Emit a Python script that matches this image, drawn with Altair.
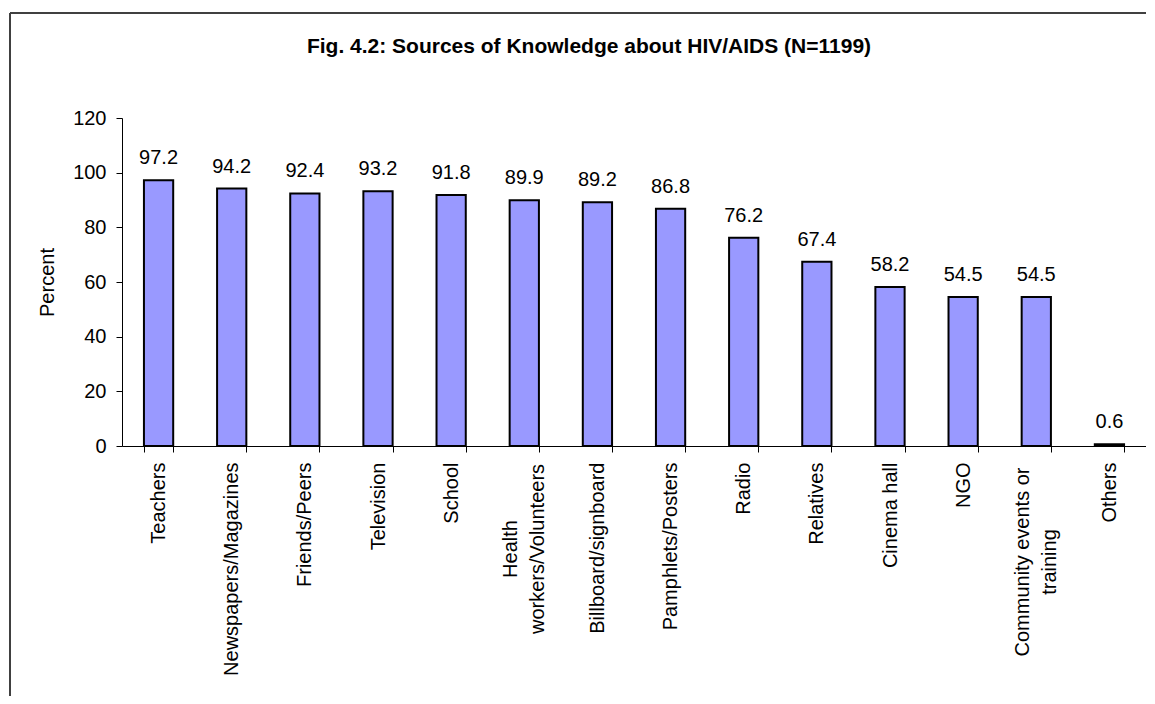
import altair as alt
import pandas as pd

categories = ["Teachers", "Newspapers/Magazines", "Friends/Peers", "Television", "School",
              "Health workers/Volunteers", "Billboard/signboard", "Pamphlets/Posters", "Radio",
              "Relatives", "Cinema hall", "NGO", "Community events or training", "Others"]
values = [97.2, 94.2, 92.4, 93.2, 91.8, 89.9, 89.2, 86.8, 76.2, 67.4, 58.2, 54.5, 54.5, 0.6]
y_ticks = [0, 20, 40, 60, 80, 100, 120]
title_text = "Fig. 4.2: Sources of Knowledge about HIV/AIDS (N=1199)"
# two-line category labels (drawn centred, as in the original)
wrapped = {"Health workers/Volunteers": "Health\nworkers/Volunteers",
           "Community events or training": "Community events or\ntraining"}

df = pd.DataFrame({"source": categories, "pct": values})
df["lbl"] = df["pct"].map(lambda v: f"{v:.1f}")

FONT = "Liberation Sans"
LH = 27

label_expr = ("datum.label == 'Health workers/Volunteers' || "
              "datum.label == 'Community events or training' ? '' : datum.label")

x_enc = alt.X("source:N", sort=categories,
              scale=alt.Scale(paddingInner=0.6, paddingOuter=0.3),
              axis=alt.Axis(title=None, labelAngle=-90, tickBand="extent", labelLimit=0,
                            labelExpr=label_expr))
y_enc = alt.Y("pct:Q", scale=alt.Scale(domain=[0, 120], nice=False),
              axis=alt.Axis(title="Percent", values=y_ticks, titleFontSize=20,
                            titleFontWeight="normal", titlePadding=15, titleFont=FONT,
                            titleColor="black"))

base = alt.Chart(df)
bars = base.mark_bar(color="#9999FF", stroke="black", strokeWidth=2).encode(x=x_enc, y=y_enc)
labels = base.mark_text(dy=-16, baseline="alphabetic", fontSize=20, font=FONT,
                        color="black").encode(x=x_enc, y=y_enc, text="lbl:N")

wdf = pd.DataFrame({"source": list(wrapped.keys()), "txt": list(wrapped.values())})
wrap_layers = []
for cat, ypix in [("Health workers/Volunteers", 431), ("Community events or training", 444)]:
    wrap_layers.append(
        alt.Chart(wdf[wdf["source"] == cat]).mark_text(
            angle=270, align="center", baseline="middle", lineBreak="\n", lineHeight=LH,
            dy=-LH / 2, fontSize=20, font=FONT, color="black").encode(
            x=x_enc, y=alt.value(ypix), text="txt:N"))

one = alt.Chart(alt.Data(values=[{}]))
title = one.mark_text(text=title_text, fontSize=21, fontWeight="bold", font=FONT,
                      baseline="alphabetic", align="center", color="black").encode(
    x=alt.value(467), y=alt.value(-65))
border_top = one.mark_rule(color="#404040", strokeWidth=2).encode(
    x=alt.value(-112), x2=alt.value(1100), y=alt.value(-105))
border_left = one.mark_rule(color="#404040", strokeWidth=2).encode(
    x=alt.value(-112), y=alt.value(-105), y2=alt.value(700))

chart = alt.layer(bars, labels, *wrap_layers, title, border_top, border_left).properties(
    width=1024, height=328,
    padding={"left": 114, "top": 110, "right": 0, "bottom": 250},
    autosize=alt.AutoSizeParams(type="none"),
    background="white",
).configure_view(stroke=None).configure_axis(
    labelFont=FONT, labelFontSize=20, labelColor="black", tickColor="black",
    domainColor="black", tickSize=6, labelPadding=10, grid=False, domainWidth=1,
    tickWidth=1,
)

chart.save("out.html", embed_options={"renderer": "svg", "actions": False})
